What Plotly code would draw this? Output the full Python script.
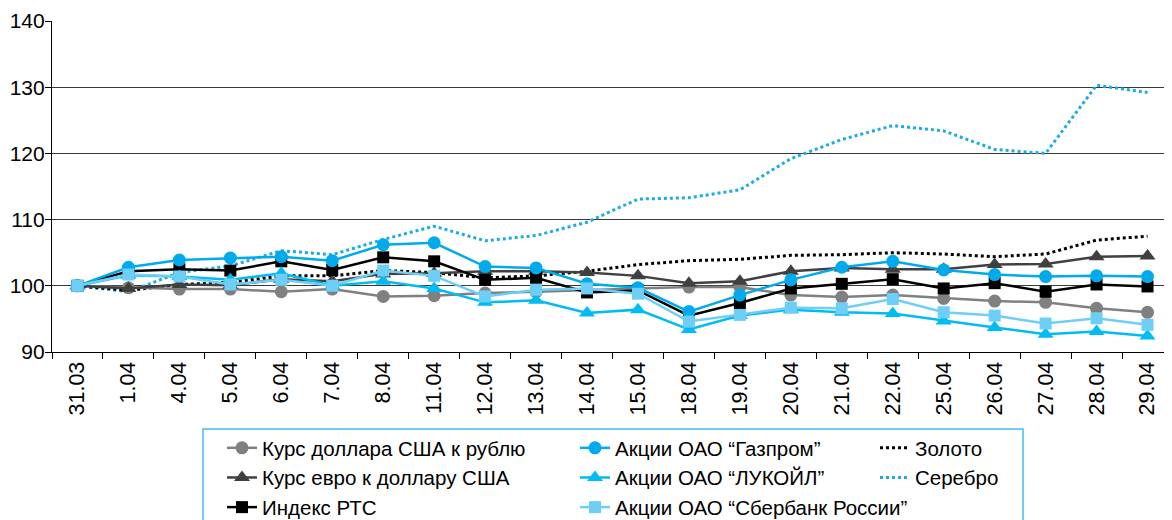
import plotly.graph_objects as go

dates = ["31.03", "1.04", "4.04", "5.04", "6.04", "7.04", "8.04", "11.04", "12.04", "13.04", "14.04",
         "15.04", "18.04", "19.04", "20.04", "21.04", "22.04", "25.04", "26.04", "27.04", "28.04", "29.04"]

usd_rub = [100, 99.7, 99.5, 99.5, 99.1, 99.5, 98.4, 98.5, 98.9, 99.1, 99.4,
           99.6, 99.8, 99.8, 98.6, 98.3, 98.6, 98.1, 97.7, 97.5, 96.6, 96.0]
eur_usd = [100, 99.6, 100.2, 100.1, 101.0, 100.7, 101.8, 101.9, 102.2, 102.2, 102.0,
           101.5, 100.4, 100.7, 102.2, 102.7, 102.5, 102.5, 103.2, 103.3, 104.4, 104.5]
rts = [100, 102.2, 102.5, 102.3, 103.7, 102.4, 104.3, 103.7, 100.9, 101.2, 99.0,
       99.3, 95.5, 97.4, 99.6, 100.3, 101.0, 99.6, 100.4, 99.1, 100.2, 99.9]
gazprom = [100, 102.8, 103.9, 104.2, 104.4, 103.8, 106.2, 106.5, 102.9, 102.7, 100.3,
           99.7, 96.1, 98.6, 100.9, 102.8, 103.7, 102.4, 101.7, 101.4, 101.5, 101.4]
lukoil = [100, 101.6, 101.4, 100.9, 101.9, 100.0, 100.7, 99.6, 97.5, 97.8, 95.9,
          96.4, 93.4, 95.5, 96.4, 96.0, 95.8, 94.7, 93.7, 92.7, 93.1, 92.4]
sberbank = [100, 101.7, 101.4, 100.2, 100.9, 100.0, 102.3, 101.5, 98.4, 99.4, 99.6,
            98.8, 94.6, 95.6, 96.7, 96.6, 98.0, 96.0, 95.5, 94.3, 95.1, 94.1]
gold = [100, 99.3, 100.2, 100.5, 101.5, 101.5, 102.3, 102.0, 101.2, 101.5, 102.2,
        103.2, 103.8, 104.0, 104.6, 104.7, 105.0, 104.8, 104.4, 104.8, 106.9, 107.5]
silver = [100, 99.1, 102.0, 103.0, 105.3, 104.7, 107.0, 109.0, 106.8, 107.6, 109.6,
          113.1, 113.3, 114.5, 119.2, 122.1, 124.2, 123.4, 120.6, 120.0, 130.3, 129.2]

names = {
    "usd": "Курс доллара США к рублю",
    "eur": "Курс евро к доллару США",
    "rts": "Индекс РТС",
    "gaz": "Акции ОАО “Газпром”",
    "luk": "Акции ОАО “ЛУКОЙЛ”",
    "sber": "Акции ОАО “Сбербанк России”",
    "gold": "Золото",
    "silver": "Серебро",
}

FONT = "Liberation Sans, Arial, Helvetica, sans-serif"
fig = go.Figure()

def add_line(y, name, color, legend, dash="solid", symbol=None, size=12):
    mode = "lines+markers" if symbol else "lines"
    fig.add_trace(go.Scatter(
        x=dates, y=y, name=name, mode=mode, legend=legend, legendgroup=name,
        line=dict(color=color, width=2.5 if dash == "solid" else 3, dash=dash),
        marker=dict(symbol=symbol, size=size, color=color) if symbol else None,
    ))

add_line(silver, names["silver"], "#1AACE6", "legend3", dash="dot")
add_line(gold, names["gold"], "#000000", "legend3", dash="dot")
add_line(usd_rub, names["usd"], "#808080", "legend", symbol="circle", size=13)
add_line(eur_usd, names["eur"], "#404040", "legend", symbol="triangle-up", size=14)
add_line(rts, names["rts"], "#000000", "legend", symbol="square", size=12)
add_line(gazprom, names["gaz"], "#00AAEC", "legend2", symbol="circle", size=13)
add_line(lukoil, names["luk"], "#00BCF2", "legend2", symbol="triangle-up", size=14)
add_line(sberbank, names["sber"], "#6DCFF6", "legend2", symbol="square", size=12)

order = {names["usd"]: 1, names["eur"]: 2, names["rts"]: 3,
         names["gaz"]: 1, names["luk"]: 2, names["sber"]: 3,
         names["gold"]: 1, names["silver"]: 2}
for tr in fig.data:
    tr.legendrank = order[tr.name]

W, H = 1172, 520
# the page body adds an 8px offset; margins are set so the plot lands at
# screen x 52..1173, y 21..352
L, T = 44, 13
PW, PH = 1121, 331
R, B = W - L - PW, H - T - PH
SX0, SY1 = 52, 352  # screen coords of plot left / bottom

def px(x):
    return (x - SX0) / PW

def py(y):
    return (SY1 - y) / PH

leg_common = dict(
    font=dict(family=FONT, size=20.5, color="#000000"),
    bgcolor="rgba(0,0,0,0)", borderwidth=0,
    yanchor="top", xanchor="left", orientation="v",
    tracegroupgap=2, itemwidth=30, traceorder="normal",
)

fig.update_layout(
    width=W, height=H,
    margin=dict(l=L, r=R, t=T, b=B, autoexpand=False),
    plot_bgcolor="white", paper_bgcolor="white",
    font=dict(family=FONT, size=21.5, color="#000000"),
    showlegend=True,
    legend=dict(x=px(222), y=py(428), **leg_common),
    legend2=dict(x=px(575), y=py(428), **leg_common),
    legend3=dict(x=px(875), y=py(428), **leg_common),
    xaxis=dict(
        type="category", tickangle=-90, tickson="boundaries",
        ticks="outside", ticklen=6, tickcolor="#000000",
        showline=True, linecolor="#000000", linewidth=1.2,
        showgrid=False, zeroline=False,
        tickfont=dict(family=FONT, size=21.5),
        range=[-0.5, len(dates) - 0.5],
    ),
    yaxis=dict(
        range=[90, 140], dtick=10, tick0=90,
        ticks="outside", ticklen=6, tickcolor="#000000",
        showline=True, linecolor="#000000", linewidth=1.2,
        showgrid=True, gridcolor="#3a3a3a", gridwidth=1,
        zeroline=False, ticklabelstandoff=-4,
        tickfont=dict(family=FONT, size=21),
    ),
    shapes=[dict(
        type="rect", xref="paper", yref="paper",
        x0=px(203), x1=px(1023), y0=py(580), y1=py(429),
        line=dict(color="#41BFEF", width=1.5), fillcolor="rgba(0,0,0,0)",
        layer="below",
    )],
)

fig.write_html("out.html")
